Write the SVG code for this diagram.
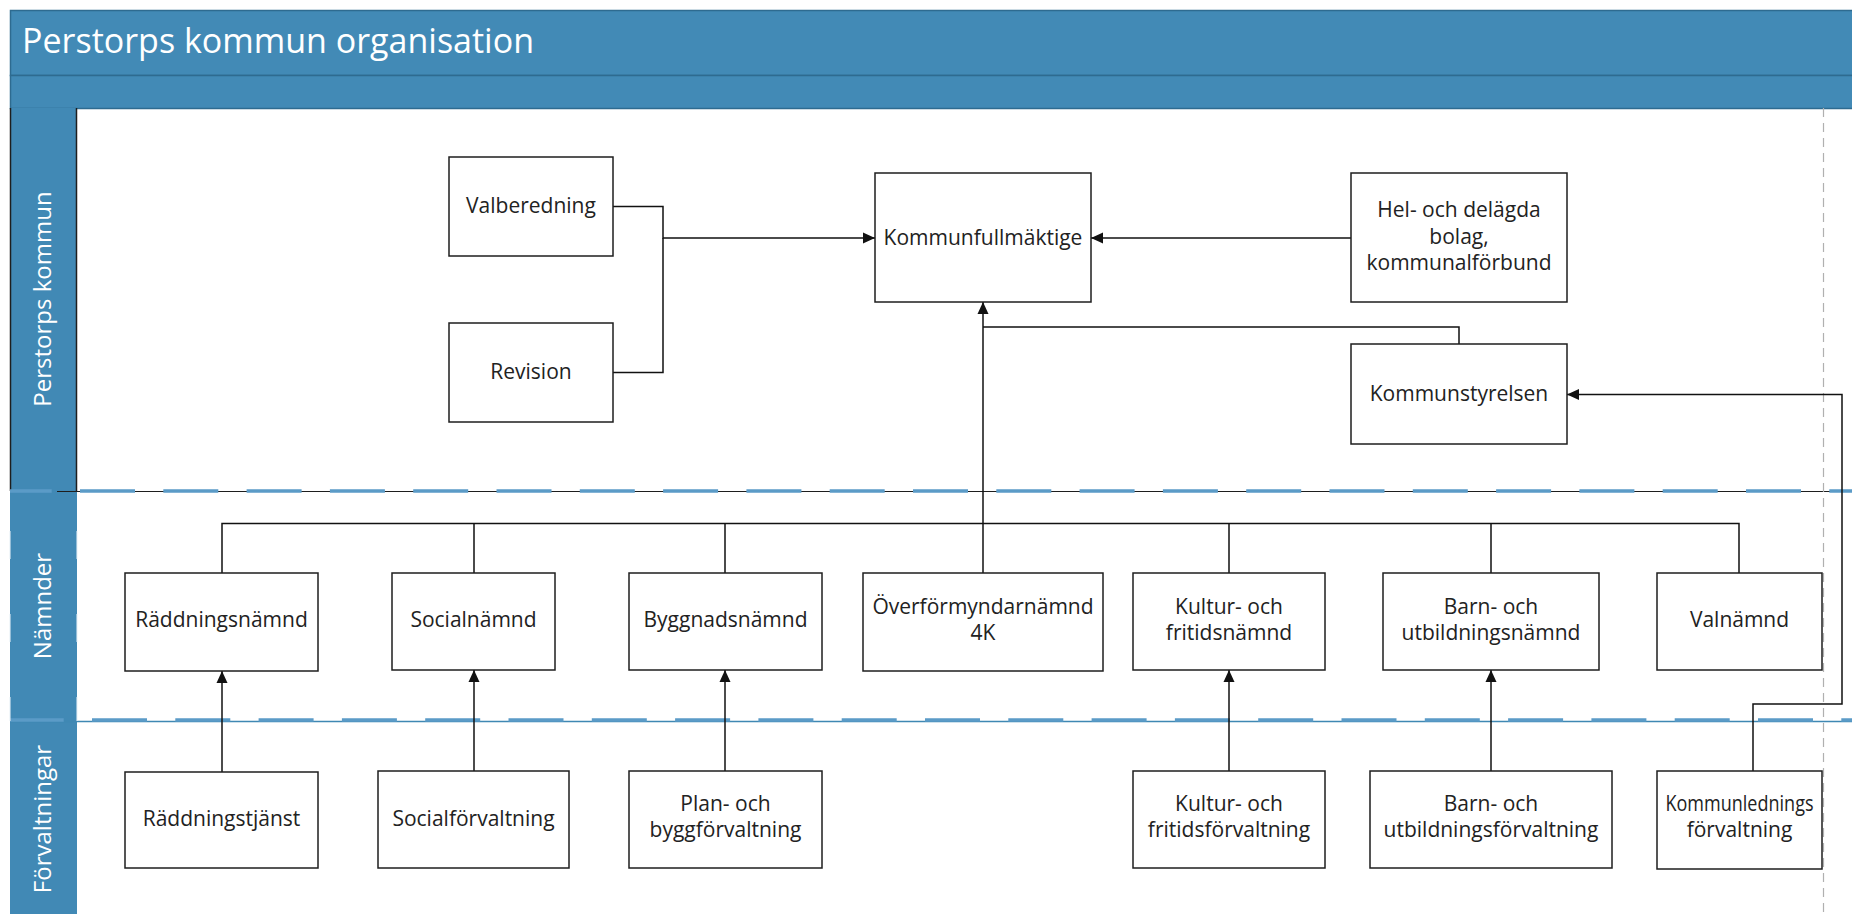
<svg xmlns="http://www.w3.org/2000/svg" width="1852" height="914" viewBox="0 0 1852 914">
<defs>
<style>
.box{fill:#fff;stroke:#1e1e1e;stroke-width:1.5}
.t{font-family:"Open Sans","Noto Sans","DejaVu Sans",sans-serif;font-size:21px;fill:#222;text-anchor:middle}
.lane{font-family:"Open Sans","Noto Sans","DejaVu Sans",sans-serif;font-size:24px;fill:#fff;text-anchor:middle}
.hdr{fill:#4189b5}
.c{fill:none;stroke:#111;stroke-width:1.5}
.ca{fill:none;stroke:#111;stroke-width:1.5;marker-end:url(#arr)}
.dash{stroke:#5b9bc7;stroke-width:3.5;stroke-dasharray:55 28.3;fill:none}
</style>
<marker id="arr" viewBox="0 0 12 12" refX="12" refY="6" markerWidth="12" markerHeight="12" markerUnits="userSpaceOnUse" orient="auto">
<path d="M0,0.5 L12,6 L0,11.5 z" fill="#111"/>
</marker>
</defs>
<rect width="1852" height="914" fill="#fff"/>

<g id="swimlanes">
<rect x="10.5" y="10.5" width="1850" height="65" fill="#428ab6" stroke="#2e6b90" stroke-width="1.5"/>
<rect x="10.5" y="75.5" width="1850" height="33" fill="#428ab6" stroke="#2e6b90" stroke-width="1.5"/>
<text x="22" y="53" font-family="'Open Sans','Noto Sans',sans-serif" font-size="34" fill="#fff">Perstorps kommun organisation</text>
<rect x="10" y="108" width="67" height="383" class="hdr"/>
<rect x="10" y="491" width="67" height="230" class="hdr"/>
<rect x="10" y="721" width="67" height="193" class="hdr"/>
<line x1="10.5" y1="108" x2="10.5" y2="491" stroke="#1e1e1e" stroke-width="1.5"/>
<line x1="76.5" y1="108" x2="76.5" y2="491" stroke="#1e1e1e" stroke-width="1.5"/>
<line x1="57" y1="491.5" x2="1852" y2="491.5" stroke="#1e1e1e" stroke-width="1.2"/>
<line x1="10" y1="491" x2="1852" y2="491" class="dash" stroke-dashoffset="13.3"/>
<line x1="10" y1="721.5" x2="1852" y2="721.5" stroke="#3f88b3" stroke-width="1.5"/>
<line x1="10" y1="720" x2="1852" y2="720" class="dash" stroke-dashoffset="1.3" stroke-width="3"/>
<line x1="10" y1="491" x2="10" y2="721" stroke="#e8f1f7" stroke-width="1.5" stroke-dasharray="28 55" stroke-dashoffset="-40" opacity="0.7"/>
<line x1="77" y1="491" x2="77" y2="721" stroke="#e8f1f7" stroke-width="1.5" stroke-dasharray="28 55" stroke-dashoffset="-40" opacity="0.7"/>
<line x1="1823.5" y1="108" x2="1823.5" y2="914" stroke="#b0b0b0" stroke-width="1.2" stroke-dasharray="9 6"/>
<text class="lane" transform="translate(51,299) rotate(-90)">Perstorps kommun</text>
<text class="lane" transform="translate(51,606) rotate(-90)">Nämnder</text>
<text class="lane" transform="translate(51,819) rotate(-90)">Förvaltningar</text>
</g>

<g id="connectors">
<path class="ca" d="M613,206.5 H663 V238 H875"/>
<path class="c" d="M613,372.5 H663 V238"/>
<path class="ca" d="M1351,238 H1091"/>
<path class="c" d="M1459,344 V327 H983"/>
<path class="ca" d="M983,573 V302"/>
<path class="c" d="M222,573 V523.5 H1739 V573"/>
<path class="c" d="M474,523.5 V573 M725,523.5 V573 M1229,523.5 V573 M1491,523.5 V573"/>
<path class="ca" d="M222,772 V671"/>
<path class="ca" d="M474,771 V670"/>
<path class="ca" d="M725,771 V670"/>
<path class="ca" d="M1229,771 V670"/>
<path class="ca" d="M1491,771 V670"/>
<path class="ca" d="M1753,771 V704 H1842 V394.5 H1567"/>
</g>

<g id="valberedning"><rect class="box" x="449" y="157" width="164" height="99"/><text class="t" x="531" y="213">Valberedning</text></g>
<g id="revision"><rect class="box" x="449" y="323" width="164" height="99"/><text class="t" x="531" y="379">Revision</text></g>
<g id="kommunfullmaktige"><rect class="box" x="875" y="173" width="216" height="129"/><text class="t" x="983" y="245">Kommunfullmäktige</text></g>
<g id="bolag"><rect class="box" x="1351" y="173" width="216" height="129"/><text class="t" x="1459" y="217">Hel- och delägda</text><text class="t" x="1459" y="244">bolag,</text><text class="t" x="1459" y="270">kommunalförbund</text></g>
<g id="kommunstyrelsen"><rect class="box" x="1351" y="344" width="216" height="100"/><text class="t" x="1459" y="401">Kommunstyrelsen</text></g>

<g id="raddningsnamnd"><rect class="box" x="125" y="573" width="193" height="98"/><text class="t" x="221.5" y="627">Räddningsnämnd</text></g>
<g id="socialnamnd"><rect class="box" x="392" y="573" width="163" height="97"/><text class="t" x="473.5" y="627">Socialnämnd</text></g>
<g id="byggnadsnamnd"><rect class="box" x="629" y="573" width="193" height="97"/><text class="t" x="725.5" y="627">Byggnadsnämnd</text></g>
<g id="overformyndarnamnd"><rect class="box" x="863" y="573" width="240" height="98"/><text class="t" x="983" y="614">Överförmyndarnämnd</text><text class="t" x="983" y="640">4K</text></g>
<g id="kulturnamnd"><rect class="box" x="1133" y="573" width="192" height="97"/><text class="t" x="1229" y="614">Kultur- och</text><text class="t" x="1229" y="640">fritidsnämnd</text></g>
<g id="barnnamnd"><rect class="box" x="1383" y="573" width="216" height="97"/><text class="t" x="1491" y="614">Barn- och</text><text class="t" x="1491" y="640">utbildningsnämnd</text></g>
<g id="valnamnd"><rect class="box" x="1657" y="573" width="165" height="97"/><text class="t" x="1739.5" y="627">Valnämnd</text></g>

<g id="raddningstjanst"><rect class="box" x="125" y="772" width="193" height="96"/><text class="t" x="221.5" y="826">Räddningstjänst</text></g>
<g id="socialforvaltning"><rect class="box" x="378" y="771" width="191" height="97"/><text class="t" x="473.5" y="826">Socialförvaltning</text></g>
<g id="planforvaltning"><rect class="box" x="629" y="771" width="193" height="97"/><text class="t" x="725.5" y="811">Plan- och</text><text class="t" x="725.5" y="837">byggförvaltning</text></g>
<g id="kulturforvaltning"><rect class="box" x="1133" y="771" width="192" height="97"/><text class="t" x="1229" y="811">Kultur- och</text><text class="t" x="1229" y="837">fritidsförvaltning</text></g>
<g id="barnforvaltning"><rect class="box" x="1370" y="771" width="242" height="97"/><text class="t" x="1491" y="811">Barn- och</text><text class="t" x="1491" y="837">utbildningsförvaltning</text></g>
<g id="kommunledningsforvaltning"><rect class="box" x="1657" y="771" width="165" height="98"/><text class="t" x="1739.5" y="811" textLength="148" lengthAdjust="spacingAndGlyphs">Kommunlednings</text><text class="t" x="1739.5" y="837">förvaltning</text></g>
</svg>
